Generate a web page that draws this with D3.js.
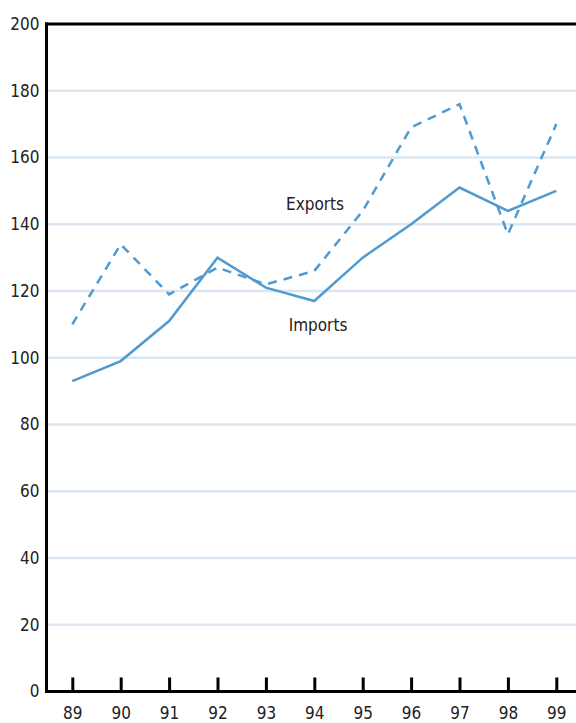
<!DOCTYPE html>
<html><head><meta charset="utf-8">
<script src="https://cdn.jsdelivr.net/npm/d3@7"></script>
<style>
html,body{margin:0;padding:0;background:#fff;}
text{font-family:"Liberation Sans Narrow","DejaVu Sans Condensed","Roboto",sans-serif;fill:#222;}
</style></head>
<body><svg id="c" width="576" height="723"></svg>
<script>
const years = ["89","90","91","92","93","94","95","96","97","98","99"];
const imports = [93, 99, 111, 130, 121, 117, 130, 140, 151, 144, 150];
const exports_ = [110, 134, 119, 127, 122, 126, 144, 169, 176, 137, 170];
const yTicks = [0,20,40,60,80,100,120,140,160,180,200];

(function(){
const svg = d3.select("#c");
const mLeft = 46.5, mRight = 576, mTop = 24, mBottom = 691.5;
const x = d3.scalePoint().domain(years).range([72.3, 556.3]);
const y = d3.scaleLinear().domain([0,200]).range([mBottom, mTop]);
const color = "#4f9bd1";

// gridlines
svg.append("g").selectAll("line").data(yTicks.filter(d=>d>0 && d<200)).join("line")
  .attr("x1", mLeft).attr("x2", mRight).attr("y1", d=>y(d)).attr("y2", d=>y(d))
  .attr("stroke", "#dbe6f1").attr("stroke-width", 2.5);

// y axis
const ya = svg.append("g").attr("transform", `translate(${mLeft},0)`)
  .call(d3.axisLeft(y).tickValues(yTicks).tickSize(0).tickPadding(7));
ya.select(".domain").remove();
ya.attr("font-family", null).attr("font-size", null);
ya.selectAll("text").attr("font-size", 17);

// x axis
const xa = svg.append("g").attr("transform", `translate(0,${mBottom})`)
  .call(d3.axisBottom(x).tickSize(0).tickPadding(15));
xa.select(".domain").remove();
xa.attr("font-family", null).attr("font-size", null);
xa.selectAll("text").attr("font-size", 17);
xa.selectAll(".tick").append("line").attr("y1", 0).attr("y2", -14)
  .attr("stroke", "#000").attr("stroke-width", 3);

// frame lines
svg.append("line").attr("x1", mLeft).attr("x2", mLeft).attr("y1", mTop-1.5).attr("y2", mBottom+1.5)
  .attr("stroke", "#000").attr("stroke-width", 3);
svg.append("line").attr("x1", mLeft-1.5).attr("x2", mRight).attr("y1", mTop).attr("y2", mTop)
  .attr("stroke", "#000").attr("stroke-width", 3);
svg.append("line").attr("x1", mLeft-1.5).attr("x2", mRight).attr("y1", mBottom).attr("y2", mBottom)
  .attr("stroke", "#000").attr("stroke-width", 3);

const line = d3.line().x((d,i)=>x(years[i])).y(d=>y(d));
svg.append("path").datum(exports_).attr("d", line).attr("fill","none")
  .attr("stroke", color).attr("stroke-width", 2.5).attr("stroke-dasharray", "9,7");
svg.append("path").datum(imports).attr("d", line).attr("fill","none")
  .attr("stroke", color).attr("stroke-width", 2.5);

svg.append("text").attr("x", 315).attr("y", 210).attr("text-anchor","middle").attr("font-size",17).text("Exports");
svg.append("text").attr("x", 318).attr("y", 331).attr("text-anchor","middle").attr("font-size",17).text("Imports");
})();
</script></body></html>
